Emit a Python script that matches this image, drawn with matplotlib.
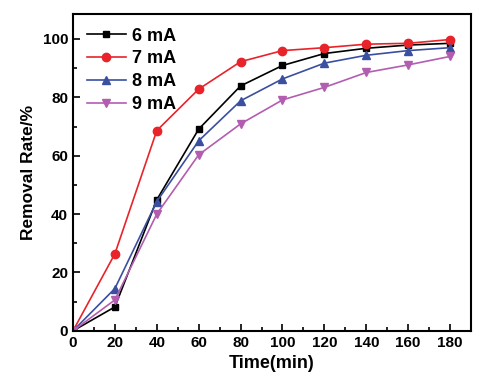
import numpy as np
import matplotlib
matplotlib.use('Agg')
from matplotlib import pyplot as plt
from matplotlib.ticker import MultipleLocator

time = [0, 20, 40, 60, 80, 100, 120, 140, 160, 180]
rate_6 = [0, 8.2, 44.9, 69.1, 83.9, 90.9, 95.0, 96.8, 97.9, 98.5]
rate_7 = [0, 26.4, 68.6, 82.8, 92.2, 96.0, 97.0, 98.2, 98.5, 99.8]
rate_8 = [0, 14.5, 44.3, 65.1, 78.8, 86.3, 91.7, 94.4, 96.0, 97.0]
rate_9 = [0, 10.6, 40.0, 60.3, 70.9, 79.1, 83.4, 88.5, 91.1, 94.0]
labels = ['6 mA', '7 mA', '8 mA', '9 mA']

plt.rcParams['font.family'] = ['Liberation Sans', 'DejaVu Sans']
plt.rcParams['font.weight'] = 'bold'

fig = plt.figure(figsize=(5, 3.92), dpi=100)
ax = fig.add_axes([0.146, 0.156, 0.796, 0.808])

ax.plot(time, rate_6, color='black', marker='s', ms=5, lw=1.2, label=labels[0])
ax.plot(time, rate_7, color='#e8242a', marker='o', ms=6, lw=1.2, label=labels[1])
ax.plot(time, rate_8, color='#3a4fa0', marker='^', ms=6, lw=1.2, label=labels[2])
ax.plot(time, rate_9, color='#b35db0', marker='v', ms=6, lw=1.2, label=labels[3])

ax.set_xlim(0, 190)
ax.set_ylim(0, 108.5)
ax.xaxis.set_major_locator(MultipleLocator(20))
ax.xaxis.set_minor_locator(MultipleLocator(10))
ax.yaxis.set_major_locator(MultipleLocator(20))
ax.yaxis.set_minor_locator(MultipleLocator(10))
ax.tick_params(which='both', direction='in', top=False, right=False, labelsize=11)
ax.tick_params(which='major', length=5, width=1.2)
ax.tick_params(which='minor', length=3, width=1.2)
for s in ax.spines.values():
    s.set_linewidth(1.5)

ax.set_xlabel('Time(min)', fontsize=13, fontweight='bold', labelpad=4)
ax.set_ylabel('Removal Rate/%', fontsize=12.5, fontweight='bold', labelpad=5)

ax.legend(loc='upper left', frameon=False, fontsize=13, handlelength=2.2,
          handletextpad=0.3, labelspacing=0.32, borderaxespad=0.35)

fig.savefig('out.png', dpi=100)
